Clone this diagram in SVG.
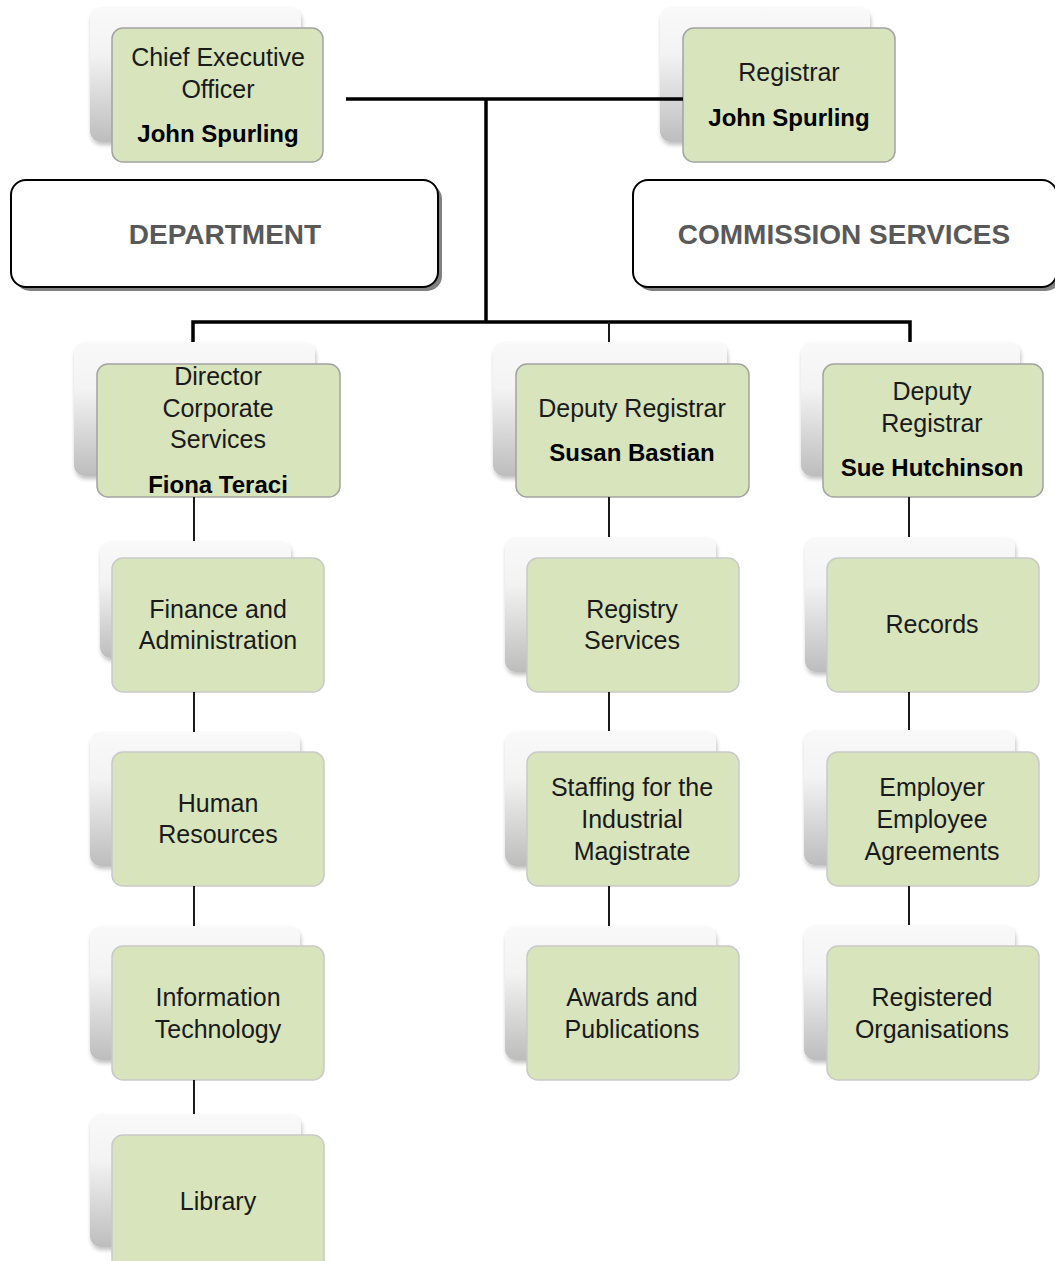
<svg xmlns="http://www.w3.org/2000/svg" width="1055" height="1261" viewBox="0 0 1055 1261">
<defs>
<linearGradient id="backg" x1="0" y1="0" x2="0" y2="1">
<stop offset="0" stop-color="#f9f9f9"/>
<stop offset="0.35" stop-color="#f3f3f3"/>
<stop offset="1" stop-color="#bdbdbd"/>
</linearGradient>
<filter id="sh" x="-10%" y="-10%" width="130%" height="130%">
<feGaussianBlur in="SourceAlpha" stdDeviation="2"/>
<feOffset dx="1" dy="3" result="b"/>
<feComponentTransfer><feFuncA type="linear" slope="0.25"/></feComponentTransfer>
<feMerge><feMergeNode/><feMergeNode in="SourceGraphic"/></feMerge>
</filter>
</defs>
<style>
.back{fill:url(#backg);filter:url(#sh)}
.front{fill:#d8e4bc;stroke:#a3a3a3;stroke-width:1.5}
.front2{fill:#d8e4bc;stroke:#c9c9c9;stroke-width:1.5}
.hdr{fill:#ffffff;stroke:#000000;stroke-width:2}
.hdrsh{fill:#808080}
.t{font-family:"Liberation Sans",Arial,sans-serif;font-size:25px;fill:#1a1a1a;text-anchor:middle}
.b{font-family:"Liberation Sans",Arial,sans-serif;font-size:24px;font-weight:bold;fill:#000;text-anchor:middle}
.h{font-family:"Liberation Sans",Arial,sans-serif;font-size:28px;font-weight:bold;fill:#595959;text-anchor:middle}
.main{stroke:#000;stroke-width:3.5;fill:none}
.sub{stroke:#1a1a1a;stroke-width:2;fill:none}
</style>

<g id="ceo">
<rect class="back" x="90" y="7" width="211" height="135" rx="11"/>
<rect class="front" x="112" y="28" width="211" height="134" rx="11"/>
<text class="t" x="218" y="66">Chief Executive</text>
<text class="t" x="218" y="98">Officer</text>
<text class="b" x="218" y="142">John Spurling</text>
</g>

<g id="registrar">
<rect class="back" x="660" y="7" width="210" height="135" rx="11"/>
<rect class="front" x="683" y="28" width="212" height="134" rx="11"/>
<text class="t" x="789" y="81">Registrar</text>
<text class="b" x="789" y="126">John Spurling</text>
</g>

<g id="department">
<rect class="hdrsh" x="15" y="184" width="427" height="107" rx="15"/>
<rect class="hdr" x="11" y="180" width="427" height="107" rx="15"/>
<text class="h" x="225" y="244">DEPARTMENT</text>
</g>

<g id="commission">
<rect class="hdrsh" x="637" y="184" width="424" height="107" rx="15"/>
<rect class="hdr" x="633" y="180" width="424" height="107" rx="15"/>
<text class="h" x="844" y="244">COMMISSION SERVICES</text>
</g>

<g id="director">
<rect class="back" x="74" y="342" width="241" height="134" rx="11"/>
<rect class="front" x="97" y="364" width="243" height="133" rx="11"/>
<text class="t" x="218" y="385">Director</text>
<text class="t" x="218" y="417">Corporate</text>
<text class="t" x="218" y="448">Services</text>
<text class="b" x="218" y="493">Fiona Teraci</text>
</g>

<g id="deputy-susan">
<rect class="back" x="493" y="342" width="234" height="134" rx="11"/>
<rect class="front" x="516" y="364" width="233" height="133" rx="11"/>
<text class="t" x="632" y="417">Deputy Registrar</text>
<text class="b" x="632" y="461">Susan Bastian</text>
</g>

<g id="deputy-sue">
<rect class="back" x="801" y="342" width="219" height="134" rx="11"/>
<rect class="front" x="823" y="364" width="220" height="133" rx="11"/>
<text class="t" x="932" y="400">Deputy</text>
<text class="t" x="932" y="432">Registrar</text>
<text class="b" x="932" y="476">Sue Hutchinson</text>
</g>

<g id="finance">
<rect class="back" x="100" y="541" width="191" height="117" rx="11"/>
<rect class="front2" x="112" y="558" width="212" height="134" rx="11"/>
<text class="t" x="218" y="618">Finance and</text>
<text class="t" x="218" y="649">Administration</text>
</g>

<g id="hr">
<rect class="back" x="90" y="732" width="210" height="134" rx="11"/>
<rect class="front2" x="112" y="752" width="212" height="134" rx="11"/>
<text class="t" x="218" y="812">Human</text>
<text class="t" x="218" y="843">Resources</text>
</g>

<g id="it">
<rect class="back" x="90" y="926" width="210" height="134" rx="11"/>
<rect class="front2" x="112" y="946" width="212" height="134" rx="11"/>
<text class="t" x="218" y="1006">Information</text>
<text class="t" x="218" y="1038">Technology</text>
</g>

<g id="library">
<rect class="back" x="90" y="1114" width="211" height="133" rx="11"/>
<rect class="front2" x="112" y="1135" width="212" height="140" rx="11"/>
<text class="t" x="218" y="1210">Library</text>
</g>

<g id="registry">
<rect class="back" x="505" y="537" width="211" height="135" rx="11"/>
<rect class="front2" x="527" y="558" width="212" height="134" rx="11"/>
<text class="t" x="632" y="618">Registry</text>
<text class="t" x="632" y="649">Services</text>
</g>

<g id="staffing">
<rect class="back" x="505" y="731" width="211" height="135" rx="11"/>
<rect class="front2" x="527" y="752" width="212" height="134" rx="11"/>
<text class="t" x="632" y="796">Staffing for the</text>
<text class="t" x="632" y="828">Industrial</text>
<text class="t" x="632" y="860">Magistrate</text>
</g>

<g id="awards">
<rect class="back" x="505" y="926" width="211" height="134" rx="11"/>
<rect class="front2" x="527" y="946" width="212" height="134" rx="11"/>
<text class="t" x="632" y="1006">Awards and</text>
<text class="t" x="632" y="1038">Publications</text>
</g>

<g id="records">
<rect class="back" x="805" y="537" width="210" height="135" rx="11"/>
<rect class="front2" x="827" y="558" width="212" height="134" rx="11"/>
<text class="t" x="932" y="633">Records</text>
</g>

<g id="employer">
<rect class="back" x="804" y="730" width="211" height="135" rx="11"/>
<rect class="front2" x="827" y="752" width="212" height="134" rx="11"/>
<text class="t" x="932" y="796">Employer</text>
<text class="t" x="932" y="828">Employee</text>
<text class="t" x="932" y="860">Agreements</text>
</g>

<g id="registered">
<rect class="back" x="804" y="925" width="211" height="135" rx="11"/>
<rect class="front2" x="827" y="946" width="212" height="134" rx="11"/>
<text class="t" x="932" y="1006">Registered</text>
<text class="t" x="932" y="1038">Organisations</text>
</g>

<g id="connectors">
<path class="main" d="M346 99 H683"/>
<path class="main" d="M486 99 V322"/>
<path class="main" d="M193 342 V322 H910 V342"/>
<path class="sub" d="M609 322 V342"/>
<path class="sub" d="M194 497 V541 M194 692 V732 M194 886 V926 M194 1080 V1114"/>
<path class="sub" d="M609 497 V537 M609 692 V731 M609 886 V926"/>
<path class="sub" d="M909 497 V537 M909 692 V730 M909 886 V925"/>
</g>
</svg>
